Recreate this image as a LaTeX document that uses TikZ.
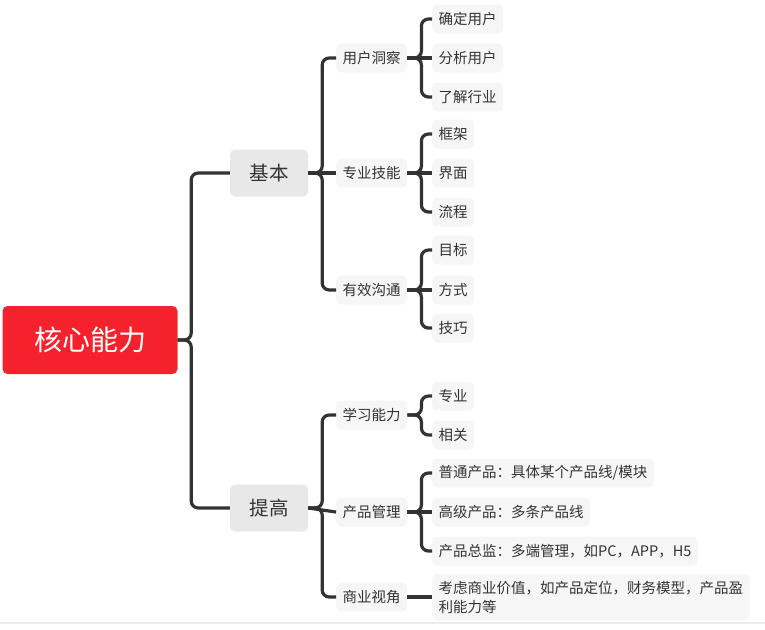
\documentclass[tikz,border=0pt]{standalone}
\usepackage{fontspec}
\setmainfont{Noto Sans CJK SC}
\definecolor{piros}{HTML}{F5222D}
\definecolor{sotet}{HTML}{333333}
\definecolor{szurke}{HTML}{E8E8E8}
\definecolor{halvany}{HTML}{F6F6F6}
\definecolor{csik}{HTML}{ECECEC}
\tikzset{
  gyoker/.style={fill=piros,text=white,rounded corners=5pt,minimum width=175pt,minimum height=68pt,font=\fontsize{28}{32}\selectfont},
  ag/.style={fill=szurke,text=sotet,rounded corners=5pt,minimum width=78pt,minimum height=47pt,font=\fontsize{19.5}{23}\selectfont},
  kis/.style={fill=halvany,text=sotet,rounded corners=5pt,inner xsep=6.5pt,inner ysep=4pt,minimum height=29pt,anchor=west,align=left,font=\fontsize{14.5}{19}\selectfont},
  vonal/.style={draw=sotet,line width=3.2pt,rounded corners=7pt},
}
\begin{document}
\begin{tikzpicture}[x=1pt,y=-1pt]
  \useasboundingbox (0,0) rectangle (765,629);
  \draw[csik,line width=2pt] (0,623) -- (765,623);
  \node[gyoker] (hx) at (90,340) {核心能力};
  \node[ag] (jb) at (269,173) {基本};
  \node[ag] (tg) at (269,508) {提高};
  \foreach \n/\y/\t in {n1/58/用户洞察,n2/173/专业技能,n3/290/有效沟通,n4/415/学习能力,n5/512/产品管理,n6/597/商业视角}
    \node[kis] (\n) at (336,\y) {\t};
  \foreach \n/\y/\t in {l1/19/确定用户,l2/58/分析用户,l3/97/了解行业,l4/134/框架,l5/173/界面,l6/212/流程,
    l7/250/目标,l8/290/方式,l9/328/技巧,l10/396/专业,l11/435/相关,
    l12/473/{普通产品：具体某个产品线/模块},l13/512/高级产品：多条产品线,l14/551/产品总监：多端管理，如PC，APP，H5}
    \node[kis] (\n) at (432,\y) {\t};
  \node[kis,inner ysep=7pt] (l15) at (432,597) {考虑商业价值，如产品定位，财务模型，产品盈\\利能力等};
  \foreach \c in {jb,tg} \draw[vonal] (hx.east) -- ++(13.5,0) |- (\c.west);
  \foreach \p/\c in {jb/n1,jb/n3,tg/n4,tg/n6,n1/l1,n1/l3,n2/l4,n2/l6,n3/l7,n3/l9,n4/l10,n4/l11,n5/l12,n5/l14}
    \draw[vonal] (\p.east) -- ++(14,0) |- (\c.west);
  \foreach \p/\c in {jb/n2,tg/n5,n1/l2,n2/l5,n3/l8,n5/l13,n6/l15}
    \draw[vonal] (\p.east) -- (\c.west);
\end{tikzpicture}
\end{document}
